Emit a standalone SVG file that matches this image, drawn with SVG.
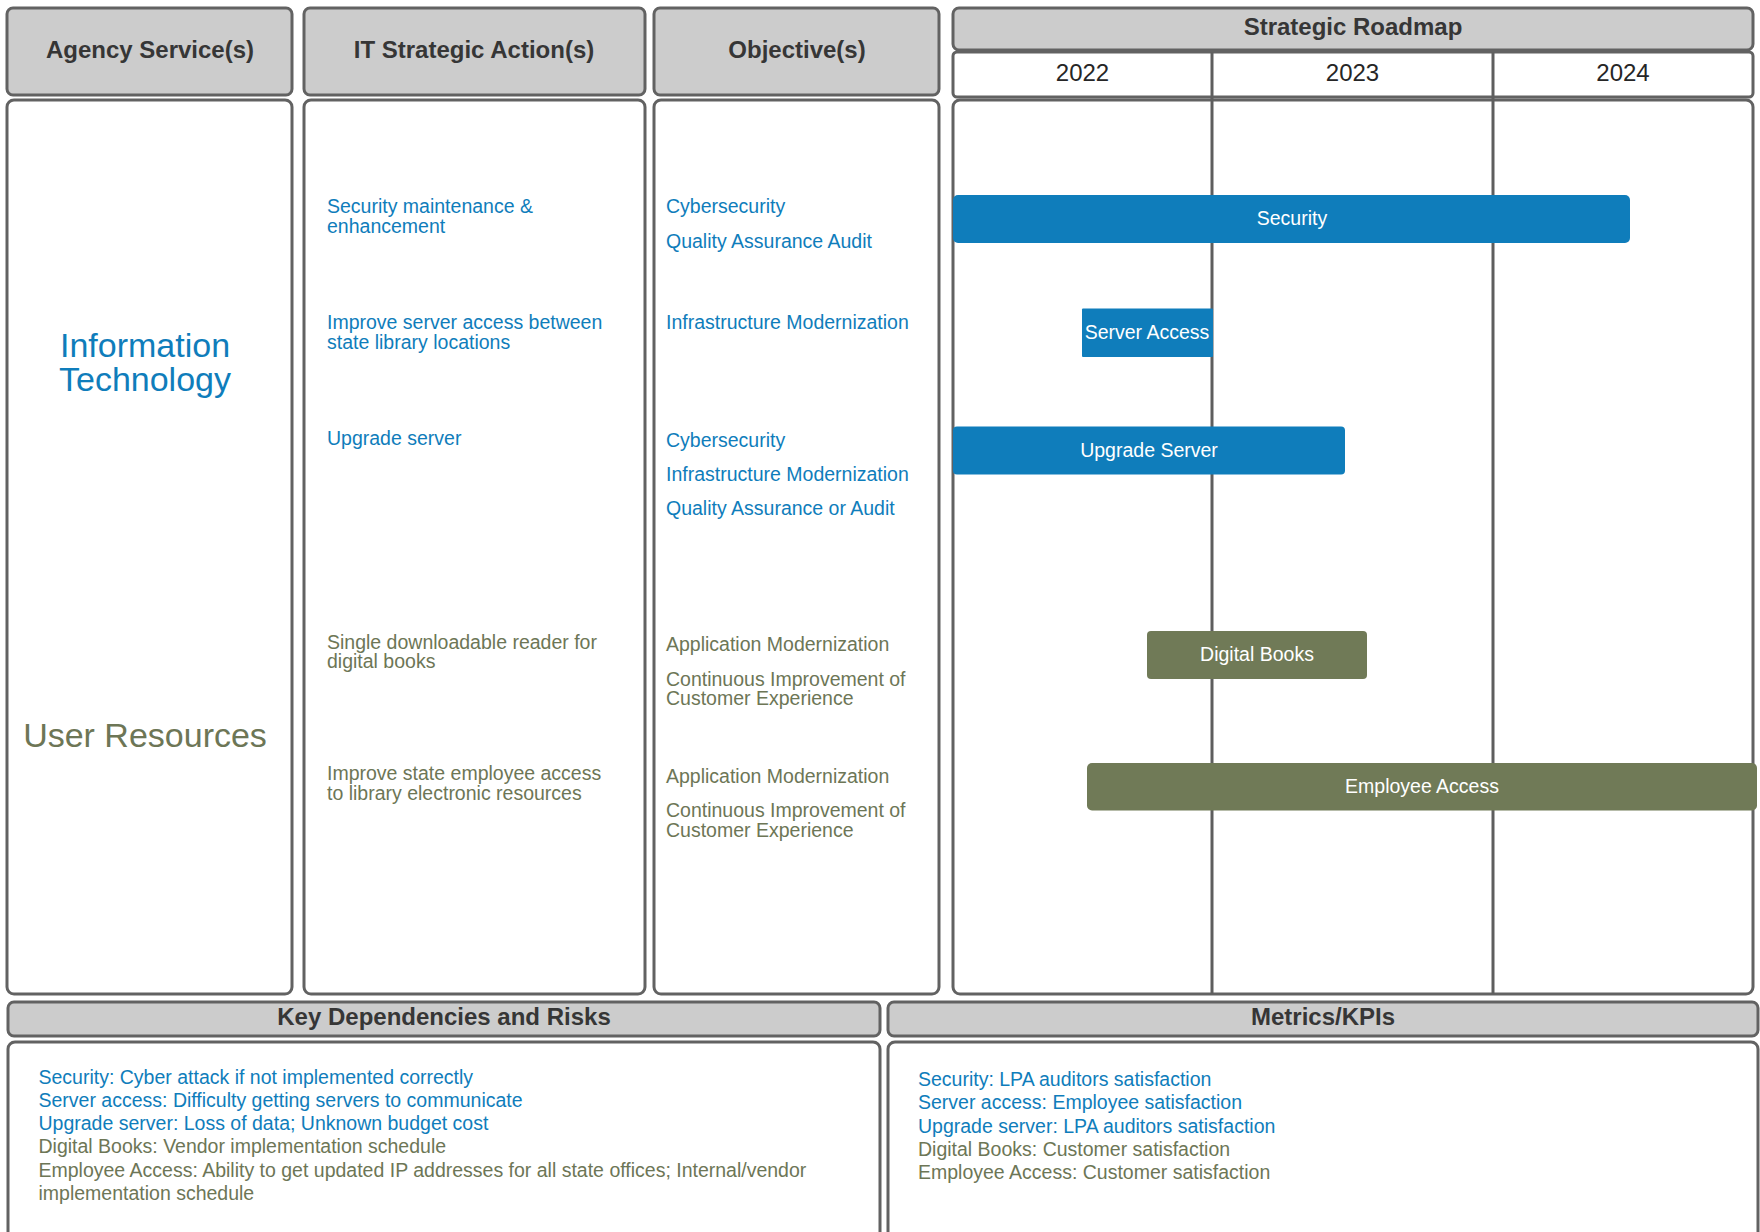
<svg xmlns="http://www.w3.org/2000/svg" width="1760" height="1232" viewBox="0 0 1760 1232">
<style>
text{font-family:"Liberation Sans",Arial,sans-serif}
.hdr{fill:#cccccc;stroke:#626262;stroke-width:3}
.box{fill:#ffffff;stroke:#626262;stroke-width:3}
.ht{font-size:24px;font-weight:bold;fill:#363636;text-anchor:middle}
.yr{font-size:24px;fill:#262626;text-anchor:middle}
.b{font-size:19.5px;fill:#0f7dbb}
.g{font-size:19.5px;fill:#6d7656}
.big{font-size:34px;text-anchor:middle}
.bar-b{fill:#0f7dbb}
.bar-g{fill:#707a57}
.bt{font-size:19.5px;fill:#ffffff;text-anchor:middle}
.grid{stroke:#5e5e5e;stroke-width:3}
</style>
<rect width="1760" height="1232" fill="#ffffff"/>

<g id="header-agency">
<rect class="hdr" x="7" y="8" width="285" height="87" rx="6"/>
<text class="ht" x="150" y="57.5">Agency Service(s)</text>
</g>
<g id="header-actions">
<rect class="hdr" x="304" y="8" width="341" height="87" rx="6"/>
<text class="ht" x="474" y="57.5">IT Strategic Action(s)</text>
</g>
<g id="header-objectives">
<rect class="hdr" x="654" y="8" width="285" height="87" rx="6"/>
<text class="ht" x="797" y="57.5">Objective(s)</text>
</g>
<g id="header-roadmap">
<rect class="hdr" x="953" y="8" width="800" height="42" rx="6"/>
<text class="ht" x="1353" y="35">Strategic Roadmap</text>
</g>
<g id="years-row">
<rect class="box" x="953" y="52" width="800" height="45" rx="4"/>
<text class="yr" x="1082.5" y="81">2022</text>
<text class="yr" x="1352.5" y="81">2023</text>
<text class="yr" x="1623" y="81">2024</text>
</g>

<g id="body-agency">
<rect class="box" x="7" y="100" width="285" height="894" rx="7"/>
<text class="big" fill="#0f7dbb"><tspan x="145" y="357">Information</tspan><tspan x="145" y="391">Technology</tspan></text>
<text class="big" x="145" y="747" fill="#6d7656">User Resources</text>
</g>

<g id="body-actions">
<rect class="box" x="304" y="100" width="341" height="894" rx="7"/>
<text class="b" x="327" y="213">Security maintenance &amp;</text>
<text class="b" x="327" y="232.5">enhancement</text>
<text class="b" x="327" y="329">Improve server access between</text>
<text class="b" x="327" y="348.5">state library locations</text>
<text class="b" x="327" y="445">Upgrade server</text>
<text class="g" x="327" y="648.5">Single downloadable reader for</text>
<text class="g" x="327" y="668">digital books</text>
<text class="g" x="327" y="780">Improve state employee access</text>
<text class="g" x="327" y="799.5">to library electronic resources</text>
</g>

<g id="body-objectives">
<rect class="box" x="654" y="100" width="285" height="894" rx="7"/>
<text class="b" x="666" y="213">Cybersecurity</text>
<text class="b" x="666" y="248">Quality Assurance Audit</text>
<text class="b" x="666" y="329">Infrastructure Modernization</text>
<text class="b" x="666" y="447">Cybersecurity</text>
<text class="b" x="666" y="481">Infrastructure Modernization</text>
<text class="b" x="666" y="515">Quality Assurance or Audit</text>
<text class="g" x="666" y="651">Application Modernization</text>
<text class="g" x="666" y="685.5">Continuous Improvement of</text>
<text class="g" x="666" y="705">Customer Experience</text>
<text class="g" x="666" y="783">Application Modernization</text>
<text class="g" x="666" y="817">Continuous Improvement of</text>
<text class="g" x="666" y="836.5">Customer Experience</text>
</g>

<g id="body-roadmap">
<rect class="box" x="953" y="100" width="800" height="894" rx="7"/>
</g>

<g id="connectors">
<line class="grid" x1="1212" y1="52" x2="1212" y2="994"/>
<line class="grid" x1="1493" y1="52" x2="1493" y2="994"/>
</g>

<g id="bar-security">
<rect class="bar-b" x="953" y="195" width="677" height="48" rx="5"/>
<text class="bt" x="1292" y="225">Security</text>
</g>
<g id="bar-server-access">
<rect class="bar-b" x="1082" y="308.5" width="131" height="48.5" rx="1"/>
<text class="bt" x="1147" y="338.5">Server Access</text>
</g>
<g id="bar-upgrade-server">
<rect class="bar-b" x="953" y="426.5" width="392" height="48" rx="4"/>
<text class="bt" x="1149" y="456.5">Upgrade Server</text>
</g>
<g id="bar-digital-books">
<rect class="bar-g" x="1147" y="631" width="220" height="48" rx="4"/>
<text class="bt" x="1257" y="661">Digital Books</text>
</g>
<g id="bar-employee-access">
<rect class="bar-g" x="1087" y="763" width="670" height="47.5" rx="5"/>
<text class="bt" x="1422" y="792.5">Employee Access</text>
</g>

<g id="dependencies">
<rect class="hdr" x="8" y="1002" width="872" height="34" rx="6"/>
<text class="ht" x="444" y="1025">Key Dependencies and Risks</text>
<rect class="box" x="8" y="1042" width="872" height="220" rx="7"/>
<text class="b" x="38.5" y="1083.5">Security: Cyber attack if not implemented correctly</text>
<text class="b" x="38.5" y="1106.8">Server access: Difficulty getting servers to communicate</text>
<text class="b" x="38.5" y="1130.1">Upgrade server: Loss of data; Unknown budget cost</text>
<text class="g" x="38.5" y="1153.4">Digital Books: Vendor implementation schedule</text>
<text class="g" x="38.5" y="1176.7">Employee Access: Ability to get updated IP addresses for all state offices; Internal/vendor</text>
<text class="g" x="38.5" y="1200">implementation schedule</text>
</g>

<g id="metrics">
<rect class="hdr" x="888" y="1002" width="870" height="34" rx="6"/>
<text class="ht" x="1323" y="1025">Metrics/KPIs</text>
<rect class="box" x="888" y="1042" width="870" height="220" rx="7"/>
<text class="b" x="918" y="1086">Security: LPA auditors satisfaction</text>
<text class="b" x="918" y="1109.3">Server access: Employee satisfaction</text>
<text class="b" x="918" y="1132.6">Upgrade server: LPA auditors satisfaction</text>
<text class="g" x="918" y="1155.9">Digital Books: Customer satisfaction</text>
<text class="g" x="918" y="1179.2">Employee Access: Customer satisfaction</text>
</g>
</svg>
